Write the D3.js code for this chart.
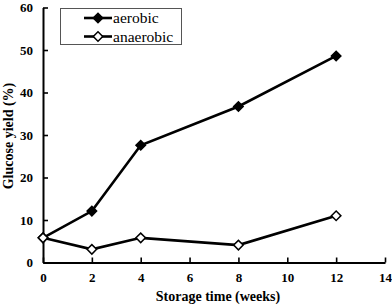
<!DOCTYPE html>
<html><head><meta charset="utf-8">
<script src="https://cdn.jsdelivr.net/npm/d3@7"></script>
<style>html,body{margin:0;padding:0;background:#fff;}svg{display:block;}
svg text{font-family:"Liberation Serif","Times New Roman",serif !important;}</style>
</head><body>
<svg id="c" width="392" height="305"></svg>
<script>
const weeks = [0, 2, 4, 8, 12];
const aerobic = [5.8, 12.1, 27.6, 36.7, 48.6];
const anaerobic = [5.8, 3.1, 5.8, 4.1, 11.0];
const xTicks = [0, 2, 4, 6, 8, 10, 12, 14];
const yTicks = [0, 10, 20, 30, 40, 50, 60];
const seriesNames = ["aerobic", "anaerobic"];

const svg = d3.select("#c");
const x = d3.scaleLinear().domain([0, 14]).range([43, 385]);
const y = d3.scaleLinear().domain([0, 60]).range([262.5, 7.5]);

const xAxis = svg.append("g").attr("transform", `translate(0,${y(0)})`)
  .call(d3.axisBottom(x).tickValues(xTicks).tickSizeInner(-5).tickSizeOuter(0).tickPadding(10));
const yAxis = svg.append("g").attr("transform", `translate(${x(0)},0)`)
  .call(d3.axisLeft(y).tickValues(yTicks).tickSizeInner(-5).tickSizeOuter(0).tickPadding(10));
[xAxis, yAxis].forEach(a => {
  a.attr("font-family", null);
  a.select(".domain").attr("stroke", "#000").attr("stroke-width", 2);
  a.selectAll(".tick line").attr("stroke", "#000").attr("stroke-width", 1.6);
  a.selectAll(".tick text").attr("fill", "#000")
    .style("font-weight", "bold").style("font-size", "13px");
});

svg.append("text").attr("x", 218).attr("y", 301).attr("text-anchor", "middle")
  .style("font-weight", "bold").style("font-size", "14px")
  .text("Storage time (weeks)");
svg.append("text").attr("transform", "translate(13,136) rotate(-90)").attr("text-anchor", "middle")
  .style("font-weight", "bold").style("font-size", "14px")
  .text("Glucose yield (%)");

const line = d3.line().x(d => x(d[0])).y(d => y(d[1]));
const sq = d3.symbol().type(d3.symbolSquare).size(45);

function drawSeries(vals, filled) {
  const pts = weeks.map((w, i) => [w, vals[i]]);
  svg.append("path").datum(pts).attr("d", line).attr("fill", "none")
    .attr("stroke", "#000").attr("stroke-width", 2.6);
  svg.selectAll(null).data(pts).enter().append("path")
    .attr("d", sq)
    .attr("transform", d => `translate(${x(d[0])},${y(d[1])}) rotate(45)`)
    .attr("fill", filled ? "#000" : "#fff").attr("stroke", "#000").attr("stroke-width", 1.5);
}
drawSeries(aerobic, true);
drawSeries(anaerobic, false);

const lg = svg.append("g");
lg.append("rect").attr("x", 60.5).attr("y", 8.5).attr("width", 121).attr("height", 36)
  .attr("fill", "#fff").attr("stroke", "#555").attr("stroke-width", 1);
seriesNames.forEach((n, i) => {
  const yy = 18 + i * 18.5;
  lg.append("line").attr("x1", 84).attr("x2", 112).attr("y1", yy).attr("y2", yy)
    .attr("stroke", "#000").attr("stroke-width", 2.6);
  lg.append("path").attr("d", sq).attr("transform", `translate(98,${yy}) rotate(45)`)
    .attr("fill", i === 0 ? "#000" : "#fff").attr("stroke", "#000").attr("stroke-width", 1.5);
  lg.append("text").attr("x", 113).attr("y", yy + 5)
    .style("font-size", "15.5px").attr("fill", "#000").text(n);
});
</script>
</body></html>
